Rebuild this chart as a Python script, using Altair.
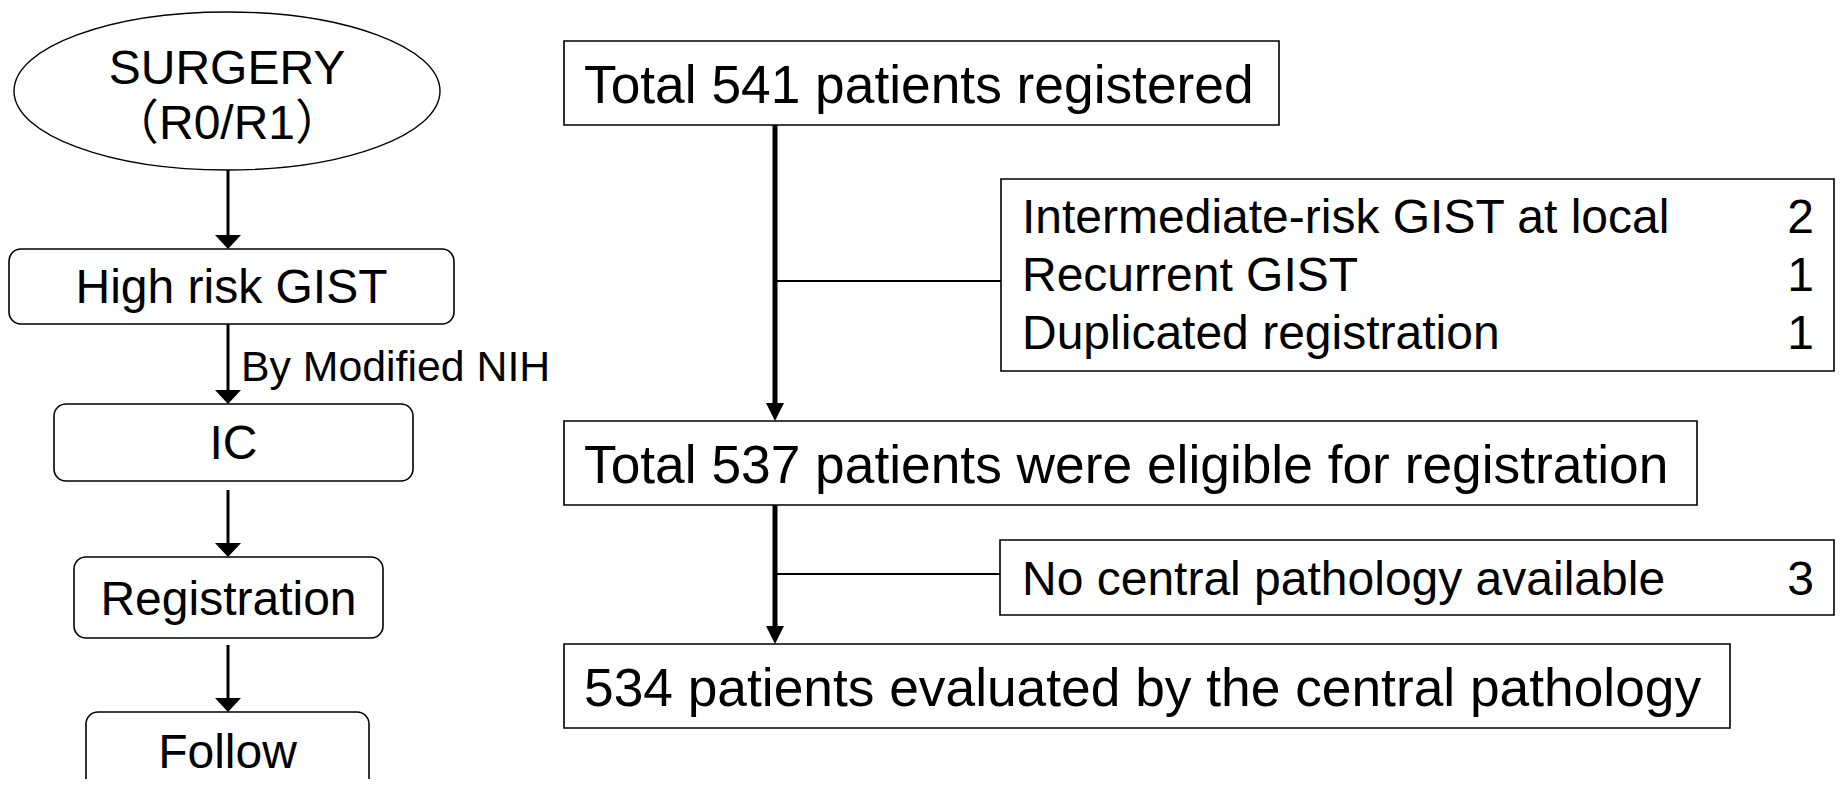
import altair as alt
import pandas as pd

# ---------------- content ----------------
left_steps = ["High risk GIST", "IC", "Registration", "Follow"]
start_lines = ["SURGERY", "（R0/R1）"]
criterion_note = "By Modified NIH"

main_steps = [
    "Total 541 patients registered",
    "Total 537 patients were eligible for registration",
    "534 patients evaluated by the central pathology",
]
excl1_reasons = ["Intermediate-risk GIST at local", "Recurrent GIST", "Duplicated registration"]
excl1_counts = [2, 1, 1]
excl2_reasons = ["No central pathology available"]
excl2_counts = [3]

# ---------------- layout (pixel canvas) ----------------
W, H = 1827, 771
X0, Y0 = 8, 8
xs = alt.Scale(domain=[X0, X0 + W], nice=False, zero=False)
ys = alt.Scale(domain=[Y0, Y0 + H], nice=False, zero=False, reverse=True)
FONT = "Liberation Sans, Arial, Noto Sans CJK JP, sans-serif"

left_box_x = [(9, 454), (54, 413), (74, 383), (86, 369)]
left_box_y = [(249, 324), (404, 481), (557, 638), (712, 800)]
left_text_y = [289, 445, 601, 754]

main_box_x = [(564, 1279), (564, 1697), (564, 1730)]
main_box_y = [(41, 125), (421, 505), (644, 728)]
main_text_y = [87, 467, 690]

excl_box_x = [(1001, 1834), (1000, 1834)]
excl_box_y = [(179, 371), (540, 615)]
excl1_text_y = [219, 277, 335]
excl2_text_y = [581]

FS_MAIN, FS_SIDE, FS_NOTE = 53.3, 48, 42.8

def X(f):
    return alt.X(f"{f}:Q", scale=xs, axis=None)

def Y(f):
    return alt.Y(f"{f}:Q", scale=ys, axis=None)

# rectangles
rect_main = pd.DataFrame(
    [{"x": a, "x2": b, "y": c, "y2": d} for (a, b), (c, d) in zip(main_box_x + excl_box_x, main_box_y + excl_box_y)]
)
rect_left = pd.DataFrame(
    [{"x": a, "x2": b, "y": c, "y2": d} for (a, b), (c, d) in zip(left_box_x, left_box_y)]
)

rects_sq = alt.Chart(rect_main).mark_rect(
    fill="white", stroke="black", strokeWidth=1.6
).encode(x=X("x"), x2="x2", y=Y("y"), y2="y2")

rects_rd = alt.Chart(rect_left).mark_rect(
    fill="white", stroke="black", strokeWidth=1.6, cornerRadius=12
).encode(x=X("x"), x2="x2", y=Y("y"), y2="y2")

# ellipse (custom symbol path)
ell_rx, ell_ry = 213, 79
k = 0.5523
r = ell_ry / ell_rx
ell_path = (
    f"M 1 0 C 1 {k*r:.4f} {k:.4f} {r:.4f} 0 {r:.4f} "
    f"C {-k:.4f} {r:.4f} -1 {k*r:.4f} -1 0 "
    f"C -1 {-k*r:.4f} {-k:.4f} {-r:.4f} 0 {-r:.4f} "
    f"C {k:.4f} {-r:.4f} 1 {-k*r:.4f} 1 0 Z"
)
ell_df = pd.DataFrame({"x": [227], "y": [91]})
ellipse = alt.Chart(ell_df).mark_point(
    shape=ell_path, size=(2 * ell_rx) ** 2, filled=False, color="black",
    strokeWidth=1.4, opacity=1
).encode(x=X("x"), y=Y("y"))

# connector lines
LH_L = 14   # left arrowhead height
LH_M = 18   # main arrowhead height
left_arrows = [(228, 170, 249), (228, 324, 404), (228, 490, 557), (228, 645, 712)]
main_arrows = [(775, 125, 421), (775, 505, 644)]
branches = [(775, 1001, 281), (775, 1000, 574)]

seg_rows = []
for x, y1, y2 in left_arrows:
    seg_rows.append({"x": x, "x2": x, "y": y1, "y2": y2 - LH_L + 2, "w": 3})
for x, y1, y2 in main_arrows:
    seg_rows.append({"x": x, "x2": x, "y": y1, "y2": y2 - LH_M + 2, "w": 5})
for x1, x2, y in branches:
    seg_rows.append({"x": x1, "x2": x2, "y": y, "y2": y, "w": 2})
segs = pd.DataFrame(seg_rows)
lines = alt.Chart(segs).mark_rule(color="black").encode(
    x=X("x"), x2="x2", y=Y("y"), y2="y2",
    strokeWidth=alt.StrokeWidth("w:Q", scale=None),
)

# arrowheads (tip at the point)
head_l_df = pd.DataFrame({"x": [a[0] for a in left_arrows], "y": [a[2] for a in left_arrows]})
head_m_df = pd.DataFrame({"x": [a[0] for a in main_arrows], "y": [a[2] for a in main_arrows]})
head_l = alt.Chart(head_l_df).mark_point(
    shape="M -1 -1.08 L 1 -1.08 L 0 0 Z", size=26 ** 2, filled=True, color="black", opacity=1
).encode(x=X("x"), y=Y("y"))
head_m = alt.Chart(head_m_df).mark_point(
    shape="M -1 -2 L 1 -2 L 0 0 Z", size=18 ** 2, filled=True, color="black", opacity=1
).encode(x=X("x"), y=Y("y"))

# texts
center_rows = [
    {"x": 227, "y": 70, "t": start_lines[0], "fs": FS_SIDE},
    {"x": 227, "y": 125, "t": start_lines[1], "fs": FS_SIDE},
]
for (a, b), ty, t in zip(left_box_x, left_text_y, left_steps):
    center_rows.append({"x": (a + b) / 2, "y": ty, "t": t, "fs": FS_SIDE})
center_df = pd.DataFrame(center_rows)

left_rows = [{"x": 241, "y": 368, "t": criterion_note, "fs": FS_NOTE}]
for ty, t in zip(main_text_y, main_steps):
    left_rows.append({"x": 584, "y": ty, "t": t, "fs": FS_MAIN})
for ty, t in zip(excl1_text_y, excl1_reasons):
    left_rows.append({"x": 1022, "y": ty, "t": t, "fs": FS_SIDE})
for ty, t in zip(excl2_text_y, excl2_reasons):
    left_rows.append({"x": 1022, "y": ty, "t": t, "fs": FS_SIDE})
left_df = pd.DataFrame(left_rows)

right_rows = []
for ty, c in zip(excl1_text_y + excl2_text_y, excl1_counts + excl2_counts):
    right_rows.append({"x": 1814, "y": ty, "t": str(c), "fs": FS_SIDE})
right_df = pd.DataFrame(right_rows)

def text_layer(df, align):
    return alt.Chart(df).mark_text(
        font=FONT, color="black", align=align, baseline="middle"
    ).encode(
        x=X("x"), y=Y("y"), text="t:N",
        size=alt.Size("fs:Q", scale=None),
    )

chart = alt.layer(
    rects_sq, rects_rd, ellipse, lines, head_l, head_m,
    text_layer(center_df, "center"), text_layer(left_df, "left"), text_layer(right_df, "right"),
).properties(
    width=W, height=H, padding=0, autosize=alt.AutoSizeParams(type="none"),
    background="white",
).configure_view(stroke=None)

chart.save("out.html", embed_options={"renderer": "svg", "actions": False})
